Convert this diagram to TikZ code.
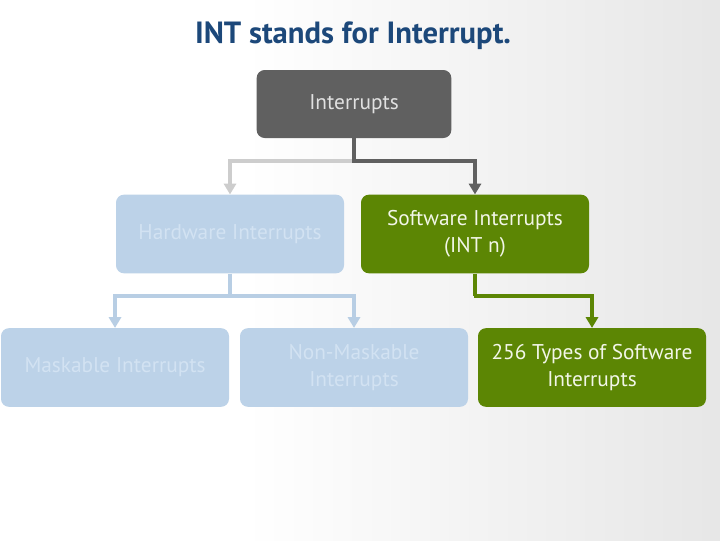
\documentclass[tikz,border=0pt]{standalone}
\usepackage{fontspec}
\setmainfont{PT Sans}
\usetikzlibrary{arrows.meta}
\definecolor{titleblue}{RGB}{28,72,122}
\definecolor{darkbox}{RGB}{96,96,96}
\definecolor{darktxt}{RGB}{225,225,225}
\definecolor{lightgreyline}{RGB}{205,205,205}
\definecolor{fadebox}{RGB}{188,210,232}
\definecolor{fadetxt}{RGB}{210,226,242}
\definecolor{fadeline}{RGB}{184,206,228}
\definecolor{greenbox}{RGB}{92,134,4}
\definecolor{greentxt}{RGB}{242,246,232}
\definecolor{bgrey}{RGB}{212,212,212}
\pgfdeclarehorizontalshading{bgshade}{100bp}{color(0bp)=(white); color(42bp)=(white); color(100bp)=(bgrey)}
\begin{document}
\begin{tikzpicture}[x=0.75pt,y=-0.75pt,
  box/.style={rounded corners=6pt,minimum width=171pt,minimum height=59pt,align=center,font=\fontsize{16}{20}\selectfont,inner sep=0pt},
  topbox/.style={box,fill=darkbox,text=darktxt,minimum width=146pt,minimum height=51pt},
  fadebx/.style={box,fill=fadebox,text=fadetxt},
  greenbx/.style={box,fill=greenbox,text=greentxt},
  conn/.style={line width=3pt,-{Triangle[length=8pt,width=9pt]}},
]
\useasboundingbox (0,0) rectangle (720,540);
\shade[shading=bgshade] (0,0) rectangle (720,540);
\node[font=\bfseries\fontsize{23}{27}\selectfont,text=titleblue] (title) at (353,36) {INT stands for Interrupt.};
\node[topbox] (int) at (354,104) {Interrupts};
\node[fadebx] (hw) at (230,234) {Hardware Interrupts};
\node[greenbx] (sw) at (475,234) {Software Interrupts\\(INT n)};
\node[fadebx] (mask) at (115,367.5) {Maskable Interrupts};
\node[fadebx] (nmask) at (354,367.5) {Non-Maskable\\Interrupts};
\node[greenbx] (t256) at (592,367.5) {256 Types of Software\\Interrupts};
\coordinate (j1) at (354,161);
\coordinate (j2) at (231,296);
\coordinate (j3) at (474,296);
\draw[conn,lightgreyline] (j1) -| (hw.north);
\draw[conn,darkbox] (int.south) |- (j1) -| (sw.north);
\draw[conn,fadeline] (hw.south) |- (j2) -| (mask.north);
\draw[conn,fadeline] (j2) -| (nmask.north);
\draw[conn,greenbox] (sw.south) |- (j3) -| (t256.north);
\end{tikzpicture}
\end{document}
